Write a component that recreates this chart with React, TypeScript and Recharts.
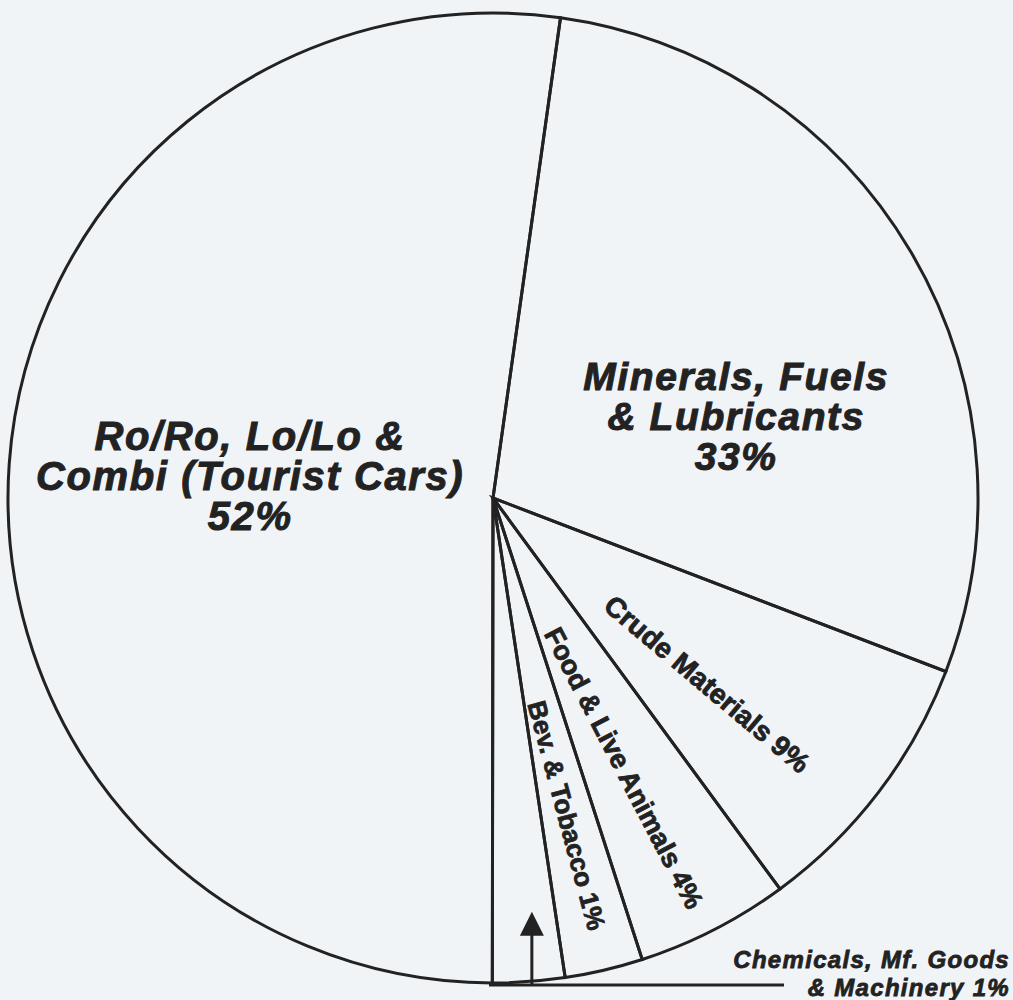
import { Pie, PieChart } from "recharts";

// order is clockwise from the top line
const categories = [
  "Minerals, Fuels & Lubricants",
  "Crude Materials",
  "Food & Live Animals",
  "Bev. & Tobacco",
  "Chemicals, Mf. Goods & Machinery",
  "Ro/Ro, Lo/Lo & Combi (Tourist Cars)",
];

// percentages printed on the chart
const printedPct = [33, 9, 4, 1, 1, 52];

// share of the circle each slice takes up in the drawing (%)
const drawnShare = [28.6, 9.1, 5.1, 2.6, 2.4, 52.2];

// how the label text is broken over lines
const labelLines: string[][] = [
  ["Minerals, Fuels", "& Lubricants"],
  ["Crude Materials"],
  ["Food & Live Animals"],
  ["Bev. & Tobacco"],
  ["Chemicals, Mf. Goods", "& Machinery"],
  ["Ro/Ro, Lo/Lo &", "Combi (Tourist Cars)"],
];

const data = categories.map((name, i) => ({
  name,
  value: drawnShare[i],
  pct: printedPct[i],
  lines: labelLines[i],
}));

const WIDTH = 1013;
const HEIGHT = 1000;
const CX = 493;
const CY = 498;
const RADIUS = 485;
const START = 82; // top boundary sits a little right of 12 o'clock

const INK = "#222";
const PAPER = "#f1f4f7";
const FONT = '"Liberation Sans", Arial, Helvetica, sans-serif';
const RAD = Math.PI / 180;

type Spot =
  | { kind: "block"; r: number; shift: number; lineH: number; size: number }
  | { kind: "rot"; r: number; shift: number; rotate: number; size: number }
  | { kind: "callout"; size: number };

// label placement: r = fraction of radius, shift = degrees clockwise from slice middle
const SPOTS: Spot[] = [
  { kind: "block", r: 0.53, shift: 11.6, lineH: 40, size: 39 },
  { kind: "rot", r: 0.585, shift: 3.7, rotate: 40, size: 28 },
  { kind: "rot", r: 0.619, shift: 1.3, rotate: 62.5, size: 27 },
  { kind: "rot", r: 0.672, shift: 0.2, rotate: 75, size: 26 },
  { kind: "callout", size: 24 },
  { kind: "block", r: 0.503, shift: 1.4, lineH: 40, size: 40 },
];

function polar(cx: number, cy: number, r: number, clockDeg: number) {
  return {
    x: cx + r * Math.sin(clockDeg * RAD),
    y: cy - r * Math.cos(clockDeg * RAD),
  };
}

function renderLabel(props: any) {
  const { cx, cy, midAngle, outerRadius, index } = props;
  const d = data[index];
  const spot = SPOTS[index];
  const clock = 90 - midAngle; // degrees clockwise from 12 o'clock

  if (spot.kind === "block") {
    const p = polar(cx, cy, spot.r * outerRadius, clock + spot.shift);
    const rows = [...d.lines, `${d.pct}%`];
    return (
      <text
        key={`lbl-${index}`}
        x={p.x}
        y={p.y}
        textAnchor="middle"
        fill={INK}
        stroke={INK}
        strokeWidth={1}
        fontFamily={FONT}
        fontWeight="bold"
        fontStyle="italic"
        fontSize={spot.size}
        letterSpacing={1.6}
      >
        {rows.map((row, i) => (
          <tspan key={i} x={p.x} y={p.y - 25 + i * spot.lineH}>
            {row}
          </tspan>
        ))}
      </text>
    );
  }

  if (spot.kind === "rot") {
    const p = polar(cx, cy, spot.r * outerRadius, clock + spot.shift);
    return (
      <text
        key={`lbl-${index}`}
        x={p.x}
        y={p.y}
        textAnchor="middle"
        dominantBaseline="central"
        transform={`rotate(${spot.rotate} ${p.x} ${p.y})`}
        fill={INK}
        stroke={INK}
        strokeWidth={0.8}
        fontFamily={FONT}
        fontWeight="bold"
        fontSize={spot.size}
      >
        {`${d.lines[0]} ${d.pct}%`}
      </text>
    );
  }

  // callout below the pie: arrow up into the slice and a leader to the text
  const baseY = cy + outerRadius + 2;
  const arrowX = cx + outerRadius * Math.sin(clock * RAD) + 3;
  const tipY = cy + outerRadius * 0.853;
  const leaderEnd = cx + outerRadius * 0.6;
  const textX = cx + outerRadius * 1.066;
  return (
    <g key={`lbl-${index}`}>
      <line x1={arrowX} y1={baseY} x2={arrowX} y2={tipY + 20} stroke={INK} strokeWidth={3} />
      <polygon
        points={`${arrowX},${tipY} ${arrowX - 12},${tipY + 24} ${arrowX + 12},${tipY + 24}`}
        fill={INK}
      />
      <line x1={cx - 4} y1={baseY} x2={leaderEnd} y2={baseY} stroke={INK} strokeWidth={3} />
      <text
        textAnchor="end"
        fill={INK}
        stroke={INK}
        strokeWidth={0.8}
        fontFamily={FONT}
        fontWeight="bold"
        fontStyle="italic"
        fontSize={spot.size}
        letterSpacing={1.3}
      >
        <tspan x={textX} y={baseY - 17}>
          {d.lines[0]}
        </tspan>
        <tspan x={textX} y={baseY + 11}>
          {`${d.lines[1]} ${d.pct}%`}
        </tspan>
      </text>
    </g>
  );
}

export default function App() {
  return (
    <div style={{ width: WIDTH, height: HEIGHT, background: PAPER }}>
      <style>{`body{margin:0;background:${PAPER};}`}</style>
      <PieChart width={WIDTH} height={HEIGHT} margin={{ top: 0, right: 0, bottom: 0, left: 0 }}>
        <Pie
          data={data}
          dataKey="value"
          nameKey="name"
          cx={CX}
          cy={CY}
          innerRadius={0}
          outerRadius={RADIUS}
          startAngle={START}
          endAngle={START - 360}
          fill="transparent"
          stroke={INK}
          strokeWidth={3}
          label={renderLabel}
          labelLine={false}
          isAnimationActive={false}
        />
      </PieChart>
    </div>
  );
}
